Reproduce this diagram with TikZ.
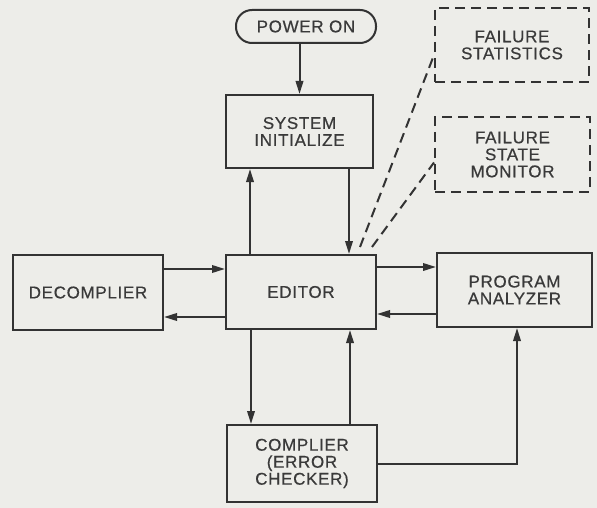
\documentclass[tikz,border=0pt]{standalone}
\usepackage{fontspec}
\setmainfont{Liberation Sans}[LetterSpace=4, FakeBold=0.6]
\usepackage{tikz}
\usepackage{xcolor}
\usetikzlibrary{arrows.meta, calc}
\definecolor{cPaper}{HTML}{EDEDE9}
\definecolor{cInk}  {HTML}{333333}
\definecolor{cLabel}{HTML}{3A3A3A}

\begin{document}
\begin{tikzpicture}[x=1pt, y=-1pt,
    box/.style={draw=cInk, fill=cPaper, line width=2pt, align=center, text=cLabel,
      font=\fontsize{17}{17}\selectfont, inner sep=0pt},
    dashbox/.style={box, dash pattern=on 10pt off 6pt},
    flow/.style={draw=cInk, line width=2pt, -{Triangle[length=13pt, width=7.5pt]}},
    hint/.style={draw=cInk, line width=2pt, dash pattern=on 10pt off 6pt}]
  \fill[cPaper] (0, 0) rectangle (597, 508);

  \node[box, rounded corners=16pt, minimum width=140pt, minimum height=33pt] (power) at (306, 26.5) {POWER ON};
  \node[box, minimum width=147pt, minimum height=73pt] (init) at (299.5, 131.5) {SYSTEM\\INITIALIZE};
  \node[dashbox, minimum width=154pt, minimum height=74pt] (stats) at (512, 45) {FAILURE\\STATISTICS};
  \node[dashbox, minimum width=155pt, minimum height=75pt] (monitor) at (512.5, 154.5) {FAILURE\\STATE\\MONITOR};
  \node[box, minimum width=150pt, minimum height=75pt] (decomp) at (88, 292.5) {DECOMPLIER};
  \node[box, minimum width=150pt, minimum height=74pt] (editor) at (301, 292) {EDITOR};
  \node[box, minimum width=155pt, minimum height=74pt] (analyzer) at (514.5, 290) {PROGRAM\\ANALYZER};
  \node[box, minimum width=150pt, minimum height=77pt] (compiler) at (302, 463.5) {COMPLIER\\(ERROR\\CHECKER)};

  \draw[flow] (init.north |- power.south) -- (init.north);
  \draw[flow] ([xshift=48pt]editor.north |- init.south) -- ([xshift=48pt]editor.north);
  \draw[flow] ([xshift=-51pt]editor.north) -- ([xshift=-51pt]editor.north |- init.south);
  \draw[flow] ([yshift=23.5pt]decomp.east) -- ([yshift=23.5pt]decomp.east -| editor.west);
  \draw[flow] ([yshift=-25pt]editor.west) -- ([yshift=-25pt]editor.west -| decomp.east);
  \draw[flow] ([yshift=25pt]editor.east) -- ([yshift=25pt]editor.east -| analyzer.west);
  \draw[flow] ([yshift=-24pt]analyzer.west) -- ([yshift=-24pt]analyzer.west -| editor.east);
  \draw[flow] ([xshift=-50pt]editor.south) -- ([xshift=-50pt]editor.south |- compiler.north);
  \draw[flow] ([xshift=48pt]compiler.north) -- ([xshift=48pt]compiler.north |- editor.south);
  \draw[flow] (compiler.east) -| ([xshift=2.5pt]analyzer.south);

  \coordinate (tapA) at (360, 247);
  \coordinate (tapB) at (372, 247);
  \draw[hint] (tapA) -- ([yshift=-10pt]stats.west);
  \draw[hint] (tapB) -- ([yshift=-8pt]monitor.west);
\end{tikzpicture}
\end{document}
